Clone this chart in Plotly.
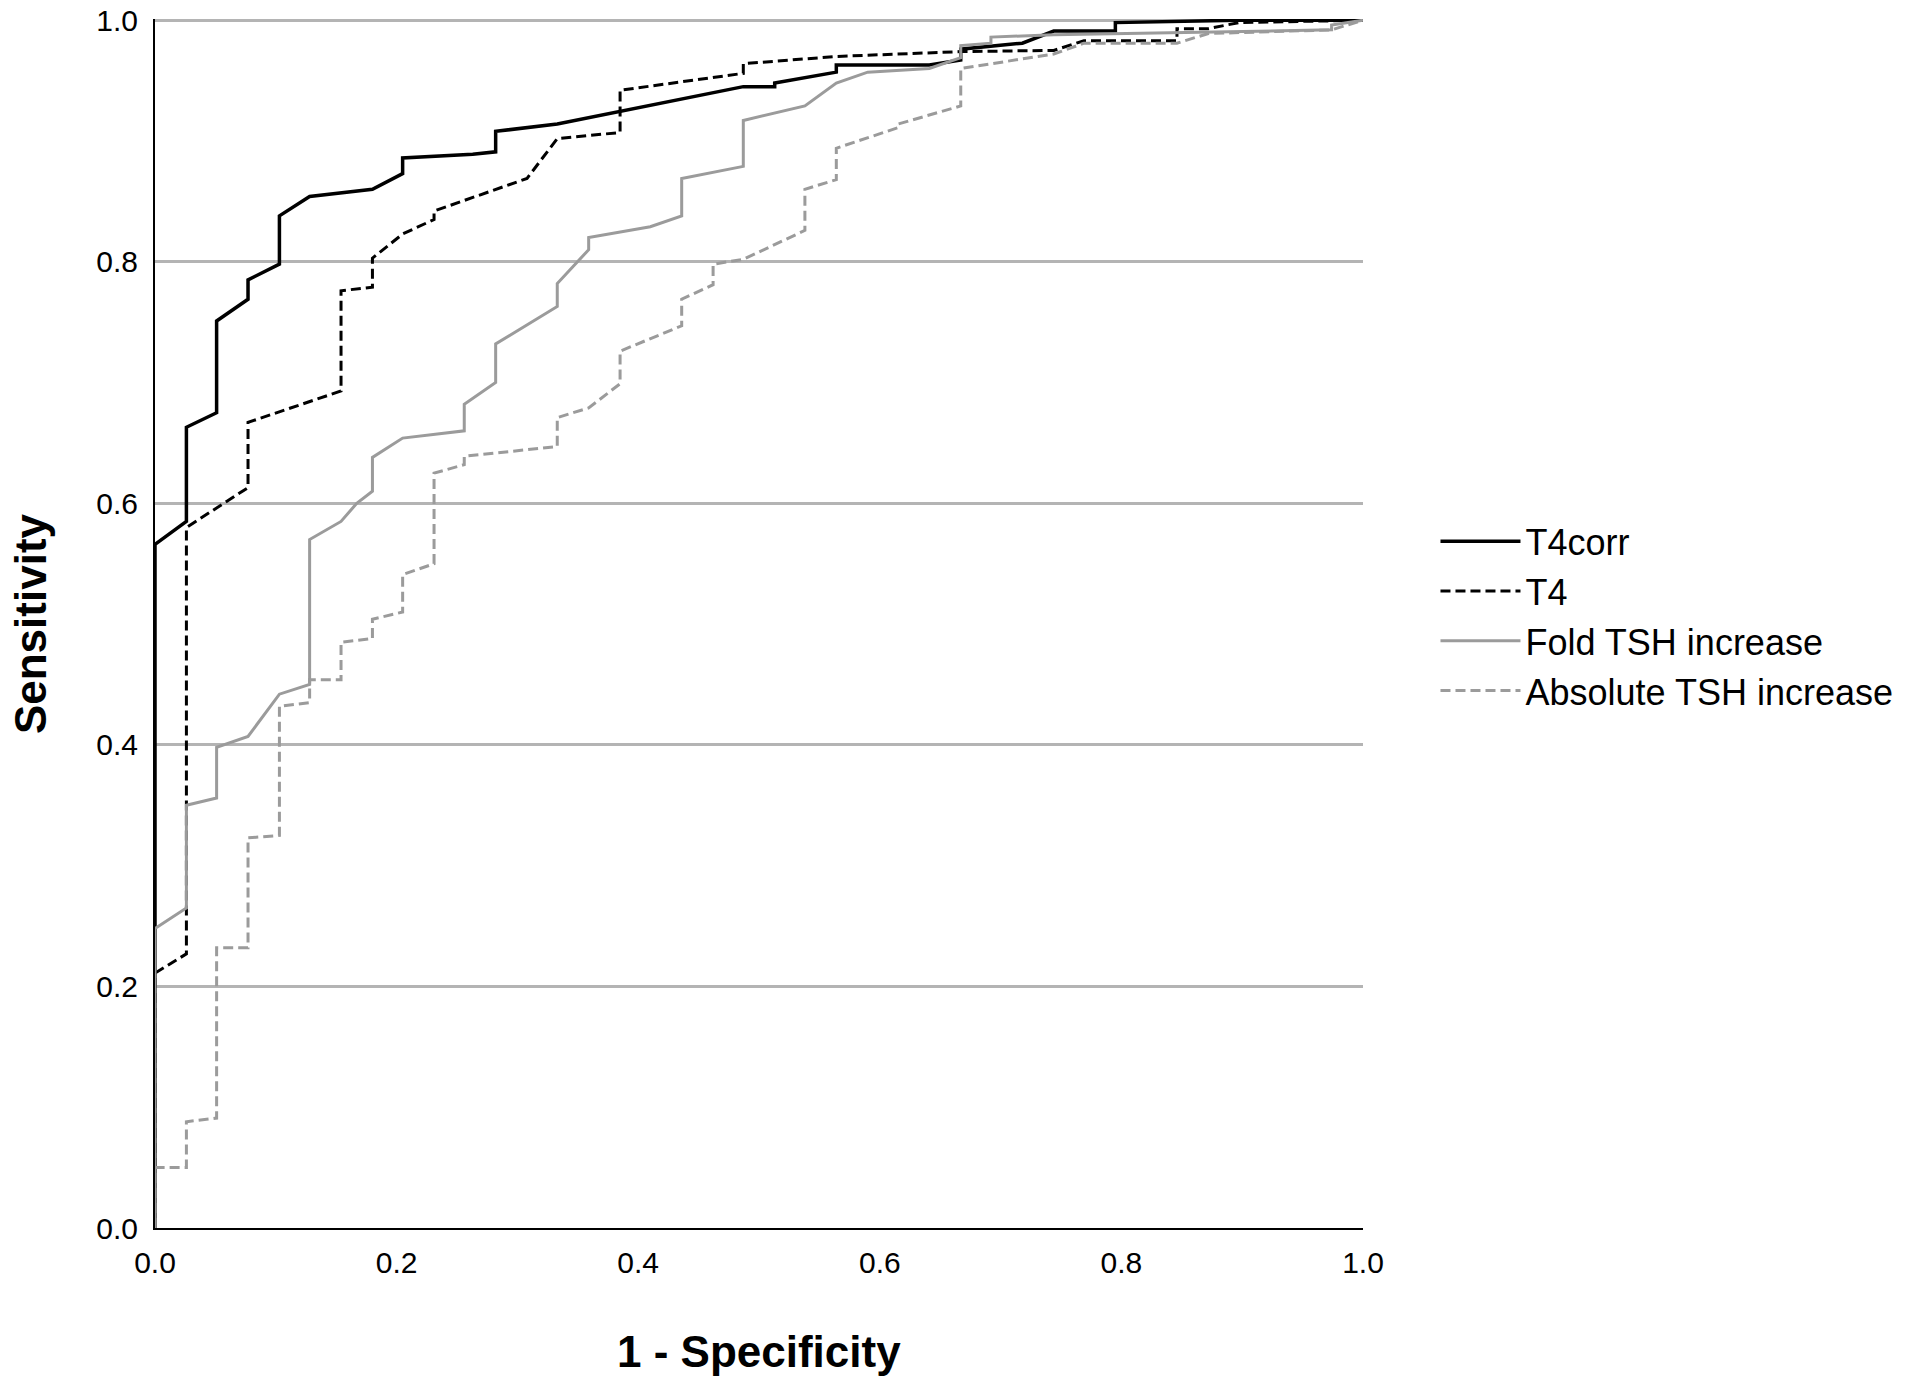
import plotly.graph_objects as go

# ROC curves (x = 1 - specificity, y = sensitivity)
t4corr_x = [0, 0, 0.026, 0.026, 0.051, 0.051, 0.077, 0.077, 0.103, 0.103, 0.128, 0.180,
            0.205, 0.205, 0.263, 0.282, 0.282, 0.333, 0.487, 0.513, 0.513, 0.564, 0.564,
            0.641, 0.667, 0.667, 0.718, 0.744, 0.795, 0.795, 0.897, 1.0]
t4corr_y = [0, 0.566, 0.585, 0.663, 0.675, 0.751, 0.769, 0.785, 0.798, 0.838, 0.854, 0.860,
            0.873, 0.886, 0.889, 0.891, 0.908, 0.914, 0.945, 0.945, 0.948, 0.957, 0.963,
            0.963, 0.967, 0.976, 0.981, 0.991, 0.991, 0.998, 1.0, 1.0]

t4_x = [0, 0, 0.026, 0.026, 0.077, 0.077, 0.154, 0.154, 0.180, 0.180, 0.205, 0.231, 0.231,
        0.308, 0.333, 0.385, 0.385, 0.487, 0.487, 0.564, 0.667, 0.744, 0.769, 0.846, 0.846,
        0.872, 0.897, 1.0]
t4_y = [0, 0.211, 0.227, 0.580, 0.613, 0.667, 0.693, 0.776, 0.779, 0.803, 0.823, 0.835, 0.842,
        0.869, 0.902, 0.907, 0.942, 0.956, 0.964, 0.970, 0.974, 0.975, 0.983, 0.983, 0.993,
        0.993, 0.998, 1.0]

fold_x = [0, 0, 0.026, 0.026, 0.051, 0.051, 0.077, 0.103, 0.128, 0.128, 0.154, 0.167, 0.180,
          0.180, 0.205, 0.256, 0.256, 0.282, 0.282, 0.333, 0.333, 0.359, 0.359, 0.410, 0.436,
          0.436, 0.487, 0.487, 0.538, 0.564, 0.590, 0.641, 0.667, 0.667, 0.692, 0.692, 0.744,
          0.974, 0.974, 1.0]
fold_y = [0, 0.248, 0.265, 0.350, 0.356, 0.398, 0.407, 0.442, 0.450, 0.570, 0.585, 0.600, 0.610,
          0.638, 0.654, 0.660, 0.682, 0.700, 0.732, 0.763, 0.782, 0.810, 0.820, 0.829, 0.838,
          0.869, 0.879, 0.917, 0.929, 0.948, 0.957, 0.960, 0.969, 0.979, 0.981, 0.986, 0.988,
          0.992, 0.996, 1.0]

abs_x = [0, 0, 0.026, 0.026, 0.051, 0.051, 0.077, 0.077, 0.103, 0.103, 0.128, 0.128, 0.154,
         0.154, 0.180, 0.180, 0.205, 0.205, 0.231, 0.231, 0.256, 0.256, 0.333, 0.333, 0.359,
         0.385, 0.385, 0.436, 0.436, 0.462, 0.462, 0.487, 0.538, 0.538, 0.564, 0.564, 0.615,
         0.615, 0.667, 0.667, 0.744, 0.769, 0.846, 0.872, 0.974, 1.0]
abs_y = [0, 0.050, 0.050, 0.088, 0.091, 0.232, 0.232, 0.323, 0.325, 0.432, 0.435, 0.454, 0.454,
         0.485, 0.488, 0.504, 0.510, 0.541, 0.550, 0.625, 0.632, 0.639, 0.647, 0.671, 0.679,
         0.699, 0.726, 0.747, 0.769, 0.781, 0.798, 0.802, 0.826, 0.860, 0.868, 0.894, 0.911,
         0.914, 0.929, 0.960, 0.972, 0.981, 0.981, 0.989, 0.992, 1.0]

tick_vals = [0, 0.2, 0.4, 0.6, 0.8, 1.0]
tick_text = ["0.0", "0.2", "0.4", "0.6", "0.8", "1.0"]

FONT = "Liberation Sans, Arial, Helvetica, sans-serif"
GREY = "#9b9b9b"

fig = go.Figure()
fig.add_trace(go.Scatter(x=t4corr_x, y=t4corr_y, mode="lines", name="T4corr",
                         line=dict(color="black", width=3.5)))
fig.add_trace(go.Scatter(x=t4_x, y=t4_y, mode="lines", name="T4",
                         line=dict(color="black", width=3, dash="10px,5px")))
fig.add_trace(go.Scatter(x=fold_x, y=fold_y, mode="lines", name="Fold TSH increase",
                         line=dict(color=GREY, width=3)))
fig.add_trace(go.Scatter(x=abs_x, y=abs_y, mode="lines", name="Absolute TSH increase",
                         line=dict(color=GREY, width=3, dash="10px,5px")))

fig.update_xaxes(range=[0, 1], tickvals=tick_vals, ticktext=tick_text, showgrid=False,
                 zeroline=False, showline=True, linecolor="black", linewidth=2,
                 ticks="outside", ticklen=7, tickcolor="rgba(0,0,0,0)",
                 automargin=False, ticklabeloverflow="allow",
                 tickfont=dict(family=FONT, size=30, color="black"))
# a hair of headroom so the 1.0 tick and gridline are kept
fig.update_yaxes(range=[0, 1.001], tickvals=tick_vals, ticktext=tick_text, showgrid=True,
                 gridcolor="#b4b4b4", gridwidth=3, zeroline=False, showline=True,
                 linecolor="black", linewidth=2,
                 ticks="outside", ticklen=9, tickcolor="rgba(0,0,0,0)",
                 automargin=False, ticklabeloverflow="allow",
                 tickfont=dict(family=FONT, size=30, color="black"))

fig.add_annotation(text="<b>1 - Specificity</b>", xref="paper", yref="paper",
                   x=0.5, y=-0.102, xanchor="center", yanchor="middle", showarrow=False,
                   font=dict(family=FONT, size=44, color="black"))
fig.add_annotation(text="<b>Sensitivity</b>", xref="paper", yref="paper",
                   x=-0.103, y=0.5, xanchor="center", yanchor="middle", showarrow=False,
                   textangle=-90, font=dict(family=FONT, size=44, color="black"))

fig.update_layout(
    width=1915, height=1379,
    margin=dict(l=155, r=552, t=19, b=151),
    plot_bgcolor="white", paper_bgcolor="white",
    legend=dict(x=1.060, y=0.506, xanchor="left", yanchor="middle",
                font=dict(family=FONT, size=36, color="black"),
                itemwidth=80, tracegroupgap=0, bgcolor="rgba(0,0,0,0)"),
)

# drop the page's default 8px body margin so the figure sits at the window corner
fig.write_html("out.html", config={"displayModeBar": False},
               post_script="document.body.style.margin = '0';")
